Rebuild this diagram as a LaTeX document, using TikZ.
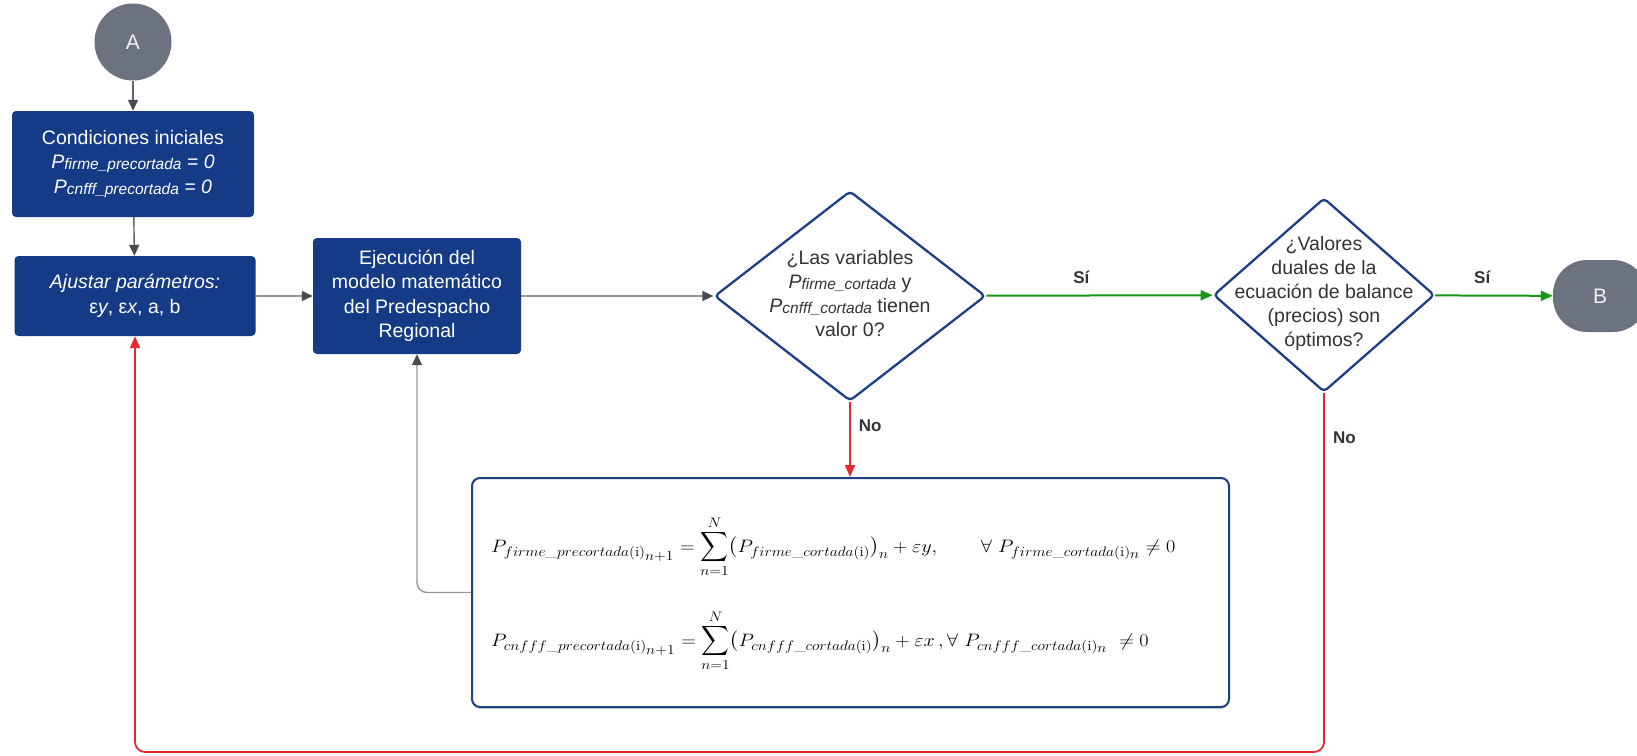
\RequirePackage{fix-cm}
\documentclass[tikz,border=0pt]{standalone}
\usepackage{amsmath}
\usepackage{exscale}
\usepackage{graphicx}
\usepackage{fontspec}
\newfontfamily\lib{Liberation Sans}
\usetikzlibrary{arrows.meta,shapes.geometric,calc,shadows}
\DeclareMathSizes{18}{18}{13.8}{10.5}
\definecolor{boxblue}{RGB}{21,59,134}
\definecolor{diablue}{RGB}{30,63,134}
\definecolor{circgray}{RGB}{108,114,128}
\definecolor{linegray}{RGB}{150,150,150}
\definecolor{headgray}{RGB}{70,75,82}
\definecolor{flowgreen}{RGB}{24,150,24}
\definecolor{flowred}{RGB}{232,40,48}
\definecolor{txtdark}{RGB}{51,51,51}
\newcommand{\mysub}[1]{\raisebox{-1pt}{\fontsize{15.5}{15.5}\selectfont #1}}
\newcommand{\us}{\text{\_}}
\newcommand{\bigsum}{\mathop{\vcenter{\hbox{\scalebox{1.0}[1.2]{$\displaystyle\sum$}}}}\limits}
\newcommand{\eqstretch}[1]{\scalebox{1.12}[1]{#1}}
\begin{document}
\begin{tikzpicture}[x=1pt,y=-1pt,
  term/.style={circle,fill=circgray,inner sep=0pt,text=white!88!gray,font=\lib\fontsize{21}{21}\selectfont},
  bbox/.style={rectangle,rounded corners=4pt,fill=boxblue,text=white,align=center,inner sep=2pt,font=\lib\fontsize{19.5}{24.5}\selectfont},
  dia/.style={diamond,draw=diablue,line width=2.3pt,rounded corners=4pt,fill=white,inner sep=0pt},
  diatext/.style={align=center,text=txtdark,font=\lib\fontsize{19.5}{24}\selectfont},
  fbox/.style={rectangle,draw=diablue,line width=2pt,rounded corners=8pt,fill=white,drop shadow={opacity=0.3,shadow xshift=0pt,shadow yshift=-2pt}},
  eqn/.style={anchor=base west,inner sep=0pt,font=\fontsize{18}{22}\selectfont},
  lbl/.style={text=txtdark,font=\lib\bfseries\fontsize{17}{17}\selectfont,inner sep=0pt},
  darkarr/.style={draw=headgray!85,line width=1.4pt,-{Triangle[length=11pt,width=10pt,color=headgray]}},
  grayarr/.style={draw=linegray,line width=1.4pt,-{Triangle[length=11pt,width=10pt,color=headgray]}},
  greenarr/.style={draw=flowgreen,line width=2pt,-{Triangle[length=12pt,width=10pt]}},
  redarr/.style={draw=flowred,line width=1.8pt,-{Triangle[length=12pt,width=10pt]}}
]
\useasboundingbox (0,0) rectangle (1637,755);

\node[term,minimum size=77pt] (A) at (133,42) {A};
\node[bbox,minimum width=242pt,minimum height=106pt] (cond) at (133,164)
  {Condiciones iniciales\\ {\itshape P\mysub{firme\_precortada} = 0}\\ {\itshape P\mysub{cnfff\_precortada} = 0}};
\node[bbox,minimum width=241pt,minimum height=80pt] (adj) at (135,296)
  {{\itshape Ajustar parámetros:}\\ ε\textit{y}, ε\textit{x}, a, b};
\node[bbox,minimum width=208pt,minimum height=116pt] (ej) at (417,296)
  {Ejecución del\\ modelo matemático\\ del Predespacho\\ Regional};

\node[dia,minimum width=271pt,minimum height=210pt] (d1) at (850,296) {};
\node[diatext] (d1t) at (850,294)
  {¿Las variables\\ {\itshape P\mysub{firme\_cortada}} y\\ {\itshape P\mysub{cnfff\_cortada}} tienen\\ valor 0?};
\node[dia,minimum width=221pt,minimum height=194pt] (d2) at (1324,295) {};
\node[diatext] (d2t) at (1324,293)
  {¿Valores\\ duales de la\\ ecuación de balance\\ (precios) son\\ óptimos?};

\node[rectangle,rounded corners=34pt,fill=circgray,minimum width=94pt,minimum height=72pt,inner sep=0pt,text=white!88!gray,font=\lib\fontsize{21}{21}\selectfont] (B) at (1600,296) {B};

\node[fbox,minimum width=757pt,minimum height=229pt] (fb) at (850.5,592.5) {};
\node[eqn] (eq1) at (491,552)
  {\eqstretch{$\displaystyle P_{firme\us precortada(\mathrm{i})_{\scriptstyle n+1}} = \bigsum_{n=1}^{N}\bigl(P_{firme\us cortada(\mathrm{i})}\bigr)_{n} + \varepsilon y, \quad\quad \forall\ P_{firme\us cortada(\mathrm{i})_{\scriptstyle n}} \neq 0$}};
\node[eqn] (eq2) at (491,646)
  {\eqstretch{$\displaystyle P_{cnfff\us precortada(\mathrm{i})_{\scriptstyle n+1}} = \bigsum_{n=1}^{N}\bigl(P_{cnfff\us cortada(\mathrm{i})}\bigr)_{n} + \varepsilon x\,, \forall\ P_{cnfff\us cortada(\mathrm{i})_{\scriptstyle n}}\ \neq 0$}};

\coordinate (loopbot) at (0,752);

\draw[darkarr] (A) -- (cond);
\draw[darkarr] (cond) -- (adj);
\draw[grayarr] (adj) -- (ej);
\draw[grayarr] (ej) -- (d1);
\draw[greenarr] (d1) -- (d2) node[lbl,pos=0.42,above=11pt] {Sí};
\draw[greenarr] (d2) -- (B) node[lbl,pos=0.4,above=11pt] {Sí};
\draw[redarr] (d1.south) -- (d1.south |- fb.north) node[lbl,pos=0.31,right=8pt] {No};
\draw[redarr,rounded corners=10pt] (d2) -- (d2 |- loopbot) -| (adj);
\node[lbl,anchor=west] (no2) at (1333,438) {No};
\draw[grayarr,rounded corners=10pt] (fb.west) -| (ej.south);
\end{tikzpicture}
\end{document}
